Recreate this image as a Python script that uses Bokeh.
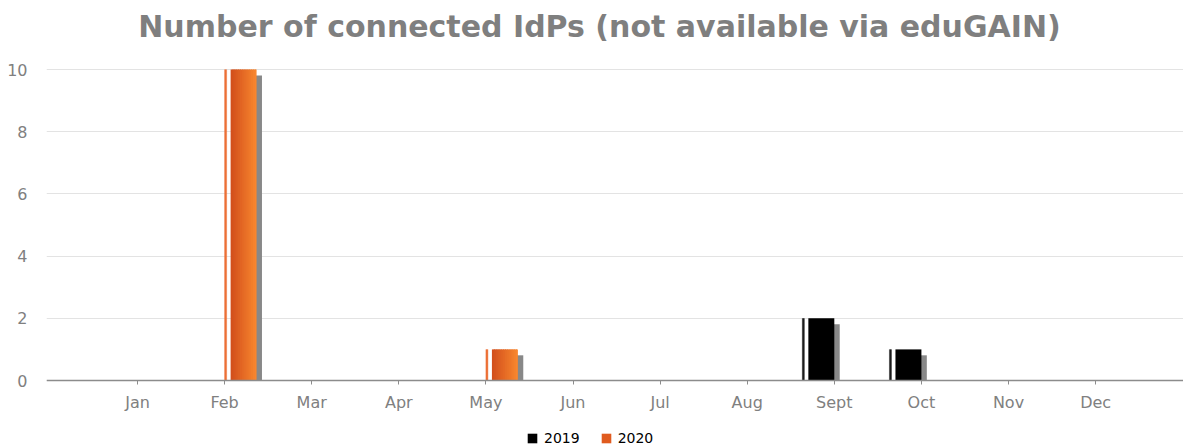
import numpy as np
from bokeh.plotting import figure
from bokeh.models import ColumnDataSource, FixedTicker, Legend, LegendItem, Range1d, Label
from bokeh.transform import dodge
from bokeh.embed import file_html
from bokeh.resources import INLINE

# ---- data ----
months = ["Jan", "Feb", "Mar", "Apr", "May", "Jun", "Jul", "Aug", "Sept", "Oct", "Nov", "Dec"]
values_2019 = [0, 0, 0, 0, 0, 0, 0, 0, 2, 1, 0, 0]
values_2020 = [0, 10, 0, 0, 1, 0, 0, 0, 0, 0, 0, 0]
series = ["2019", "2020"]
y_ticks = [0, 2, 4, 6, 8, 10]
title_text = "Number of connected IdPs (not available via eduGAIN)"

FONT = "DejaVu Sans"
GRAY = "#808080"

# layout (pixels): frame spans whole canvas height; y=0 sits at 380px, y=10 at 69px
H = 448
px_per_y = (380 - 69) / 10.0
y_lo = -(H - 380) / px_per_y
y_hi = 10 + 69 / px_per_y

p = figure(width=1183, height=H, output_backend="svg", toolbar_location=None,
           x_range=Range1d(-0.0448, 13.009), y_range=Range1d(y_lo, y_hi),
           min_border_left=46, min_border_right=0, min_border_top=0, min_border_bottom=0)
p.outline_line_color = None
p.background_fill_color = "white"
p.border_fill_color = "white"

# axes
xa = p.xaxis[0]
xa.fixed_location = 0
xa.ticker = FixedTicker(ticks=list(range(1, 13)))
xa.major_label_overrides = {i + 1: m for i, m in enumerate(months)}
xa.axis_line_color = "#8c8c8c"
xa.axis_line_width = 1.5
xa.major_tick_line_color = "#8c8c8c"
xa.major_tick_out = 4
xa.major_tick_in = 0
xa.minor_tick_line_color = None
xa.major_label_text_font = FONT
xa.major_label_text_font_size = "16px"
xa.major_label_text_color = GRAY
xa.major_label_standoff = 8

ya = p.yaxis[0]
ya.ticker = FixedTicker(ticks=y_ticks)
ya.axis_line_color = None
ya.major_tick_line_color = None
ya.minor_tick_line_color = None
ya.major_label_text_font = FONT
ya.major_label_text_font_size = "16px"
ya.major_label_text_color = GRAY
ya.major_label_standoff = 13

p.xgrid.grid_line_color = None
p.ygrid.grid_line_color = "#e3e3e3"
p.ygrid.grid_line_width = 1

# title as a label (screen units relative to frame bottom-left)
p.add_layout(Label(x=553, y=H - 26, x_units="screen", y_units="screen", text=title_text,
                   text_align="center", text_baseline="alphabetic", text_font=FONT,
                   text_font_size="30px", text_font_style="bold", text_color="#7f7f7f"))

# ---- bar style (sizes expressed in data units) ----
main_w = 0.298
sliver_w = 0.023
gap = 0.046
shadow_dx = 0.062
shadow_dy = 0.19
group_base = {"2019": -0.367, "2020": 0.0}
shadow_color = "#888888"
n_strips = {"2019": 1, "2020": 14}
grad = {
    "2019": [(0, 0, 0), (0, 0, 0)],
    "2020": [(0xd2, 0x4f, 0x1c), (0xf8, 0x86, 0x2e)],
}
sliver_color = {"2019": "#1a1a1a", "2020": "#ec6f35"}
legend_color = {"2019": "#000000", "2020": "#e05b1f"}

def hexc(c):
    return "#%02x%02x%02x" % tuple(int(round(v)) for v in c)

legend_items = []
for s, vals in zip(series, [values_2019, values_2020]):
    xs = [i + 1 for i, v in enumerate(vals) if v > 0]
    vs = [v for v in vals if v > 0]
    src = ColumnDataSource(dict(x=xs, v=vs))
    b = group_base[s]
    main_left = b + sliver_w + gap
    # shadow
    p.vbar(x=dodge("x", main_left + main_w / 2 + shadow_dx), width=main_w,
           top=dodge("v", -shadow_dy), bottom=0, source=src,
           fill_color=shadow_color, line_color=None)
    # sliver (left face)
    p.vbar(x=dodge("x", b + sliver_w / 2), width=sliver_w + 0.012, top="v", bottom=0,
           source=src, fill_color=sliver_color[s], fill_alpha=0.4, line_color=None)
    p.vbar(x=dodge("x", b + sliver_w / 2), width=sliver_w, top="v", bottom=0,
           source=src, fill_color=sliver_color[s], line_color=None)
    # main body (gradient built from strips)
    c0, c1 = grad[s]
    n = n_strips[s]
    sw = main_w / n
    for k in range(n):
        t = k / (n - 1) if n > 1 else 0
        col = tuple(c0[j] + (c1[j] - c0[j]) * t for j in range(3))
        lo = main_left + sw * k
        hi = min(main_left + sw * (k + 1.6), main_left + main_w)
        p.vbar(x=dodge("x", (lo + hi) / 2), width=hi - lo, top="v", bottom=0,
               source=src, fill_color=hexc(col), line_color=None)
    proxy = p.vbar(x=[0], top=[0], width=0.0, fill_color=legend_color[s], line_color=None)
    legend_items.append(LegendItem(label=s, renderers=[proxy]))

legend = Legend(items=legend_items, orientation="horizontal", location=(480, 2),
                label_text_font=FONT, label_text_font_size="14px", label_text_color="#000000",
                glyph_width=12, glyph_height=12, label_standoff=6, spacing=20,
                padding=2, margin=0, border_line_color=None, background_fill_alpha=0,
                label_height=14)
p.add_layout(legend)

open("out.html", "w").write(file_html(p, INLINE))
